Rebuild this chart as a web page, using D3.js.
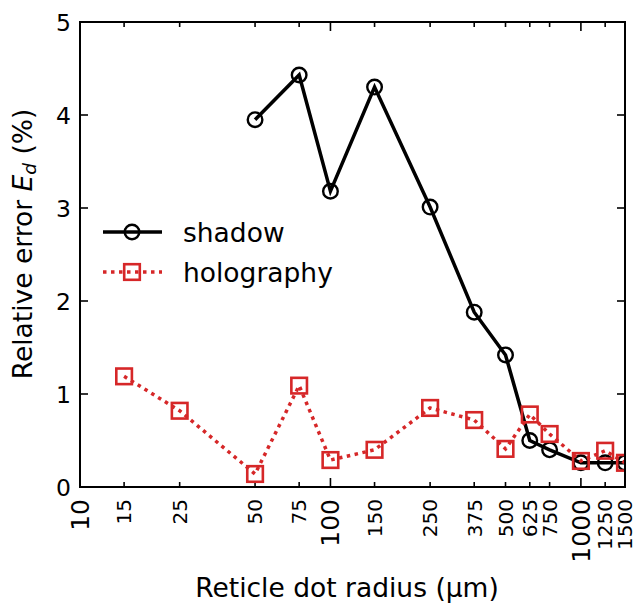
<!DOCTYPE html>
<html>
<head>
<meta charset="utf-8">
<script src="https://cdn.jsdelivr.net/npm/d3@7"></script>
<style>
body { margin: 0; background: white; }
text { font-family: "DejaVu Sans", sans-serif; }
</style>
</head>
<body>
<script>
var w = 633;
var h = 605;

// data
var shadowX = [50, 75, 100, 150, 250, 375, 500, 625, 750, 1000, 1250, 1500];
var shadowY = [3.95, 4.43, 3.18, 4.30, 3.01, 1.88, 1.42, 0.50, 0.40, 0.26, 0.26, 0.26];
var holoX = [15, 25, 50, 75, 100, 150, 250, 375, 500, 625, 750, 1000, 1250, 1500];
var holoY = [1.19, 0.82, 0.14, 1.09, 0.29, 0.40, 0.85, 0.72, 0.41, 0.78, 0.57, 0.28, 0.39, 0.26];
var majorTicks = [10, 100, 1000];
var minorTicks = [15, 25, 50, 75, 150, 250, 375, 500, 625, 750, 1250, 1500];
var yTicks = [0, 1, 2, 3, 4, 5];

var red = "#d62728";
var pLeft = 80, pRight = 625, pTop = 22, pBottom = 487;

var svg = d3.select("body").append("svg")
    .attr("width", w).attr("height", h);

var x = d3.scaleLog().domain([10, 1500]).range([pLeft, pRight]);
var y = d3.scaleLinear().domain([0, 5]).range([pBottom, pTop]);

svg.append("defs").append("clipPath").attr("id", "clip")
  .append("rect").attr("x", pLeft).attr("y", pTop)
  .attr("width", pRight - pLeft).attr("height", pBottom - pTop);

// ticks, all pointing inward, mirrored on the opposite spines
var g = svg.append("g").attr("stroke", "black").attr("stroke-width", 1.6);
majorTicks.concat(minorTicks).forEach(function(t) {
  var len = majorTicks.indexOf(t) >= 0 ? 9 : 5;
  g.append("line").attr("x1", x(t)).attr("x2", x(t)).attr("y1", pBottom).attr("y2", pBottom - len);
  g.append("line").attr("x1", x(t)).attr("x2", x(t)).attr("y1", pTop).attr("y2", pTop + len);
});
yTicks.forEach(function(t) {
  g.append("line").attr("x1", pLeft).attr("x2", pLeft + 8).attr("y1", y(t)).attr("y2", y(t));
  g.append("line").attr("x1", pRight).attr("x2", pRight - 8).attr("y1", y(t)).attr("y2", y(t));
});

// x tick labels, rotated
majorTicks.forEach(function(t) {
  svg.append("text").text(t)
    .attr("transform", "translate(" + (x(t) + 9) + ",499) rotate(-90)")
    .attr("text-anchor", "end").attr("font-size", 25);
});
minorTicks.forEach(function(t) {
  svg.append("text").text(t)
    .attr("transform", "translate(" + (x(t) + 7.3) + ",499) rotate(-90)")
    .attr("text-anchor", "end").attr("font-size", 20);
});

// y tick labels
yTicks.forEach(function(t) {
  svg.append("text").text(t)
    .attr("x", 71).attr("y", y(t) + 8.5)
    .attr("text-anchor", "end").attr("font-size", 23.5);
});

// axis labels
svg.append("text").text("Reticle dot radius (µm)")
  .attr("x", 347).attr("y", 597)
  .attr("text-anchor", "middle").attr("font-size", 26.5);

var yl = svg.append("text")
  .attr("transform", "translate(32,244) rotate(-90)")
  .attr("text-anchor", "middle").attr("font-size", 26.5);
yl.append("tspan").text("Relative error ");
yl.append("tspan").text("E").attr("font-style", "italic");
yl.append("tspan").text("d").attr("font-style", "italic").attr("font-size", 18.5).attr("dy", 4);
yl.append("tspan").text(" (%)").attr("dy", -4);

var plot = svg.append("g").attr("clip-path", "url(#clip)");

var line = d3.line().x(function(d) { return x(d[0]); }).y(function(d) { return y(d[1]); });

var shadow = d3.zip(shadowX, shadowY);
var holo = d3.zip(holoX, holoY);

plot.append("path").datum(shadow).attr("d", line)
  .attr("fill", "none").attr("stroke", "black").attr("stroke-width", 3.5);
plot.selectAll("circle.s").data(shadow).enter().append("circle")
  .attr("cx", d => x(d[0])).attr("cy", d => y(d[1])).attr("r", 7.3)
  .attr("fill", "none").attr("stroke", "black").attr("stroke-width", 2.4);

plot.append("path").datum(holo).attr("d", line)
  .attr("fill", "none").attr("stroke", red).attr("stroke-width", 3.5)
  .attr("stroke-dasharray", "3.5,4.5");
plot.selectAll("rect.h").data(holo).enter().append("rect")
  .attr("x", d => x(d[0]) - 7.8).attr("y", d => y(d[1]) - 7.8)
  .attr("width", 15.6).attr("height", 15.6)
  .attr("fill", "none").attr("stroke", red).attr("stroke-width", 2.6);

// frame
svg.append("rect").attr("x", pLeft).attr("y", pTop)
  .attr("width", pRight - pLeft).attr("height", pBottom - pTop)
  .attr("fill", "none").attr("stroke", "black").attr("stroke-width", 2);

// legend
var lg = svg.append("g");
lg.append("line").attr("x1", 103).attr("x2", 162).attr("y1", 232).attr("y2", 232)
  .attr("stroke", "black").attr("stroke-width", 3.5);
lg.append("circle").attr("cx", 132).attr("cy", 232).attr("r", 7.3)
  .attr("fill", "none").attr("stroke", "black").attr("stroke-width", 2.4);
lg.append("text").text("shadow").attr("x", 183).attr("y", 242).attr("font-size", 26.5);
lg.append("line").attr("x1", 103).attr("x2", 162).attr("y1", 272).attr("y2", 272)
  .attr("stroke", red).attr("stroke-width", 3.5).attr("stroke-dasharray", "3.5,4.5");
lg.append("rect").attr("x", 124.2).attr("y", 264.2).attr("width", 15.6).attr("height", 15.6)
  .attr("fill", "none").attr("stroke", red).attr("stroke-width", 2.6);
lg.append("text").text("holography").attr("x", 183).attr("y", 282).attr("font-size", 26.5);
</script>
</body>
</html>
